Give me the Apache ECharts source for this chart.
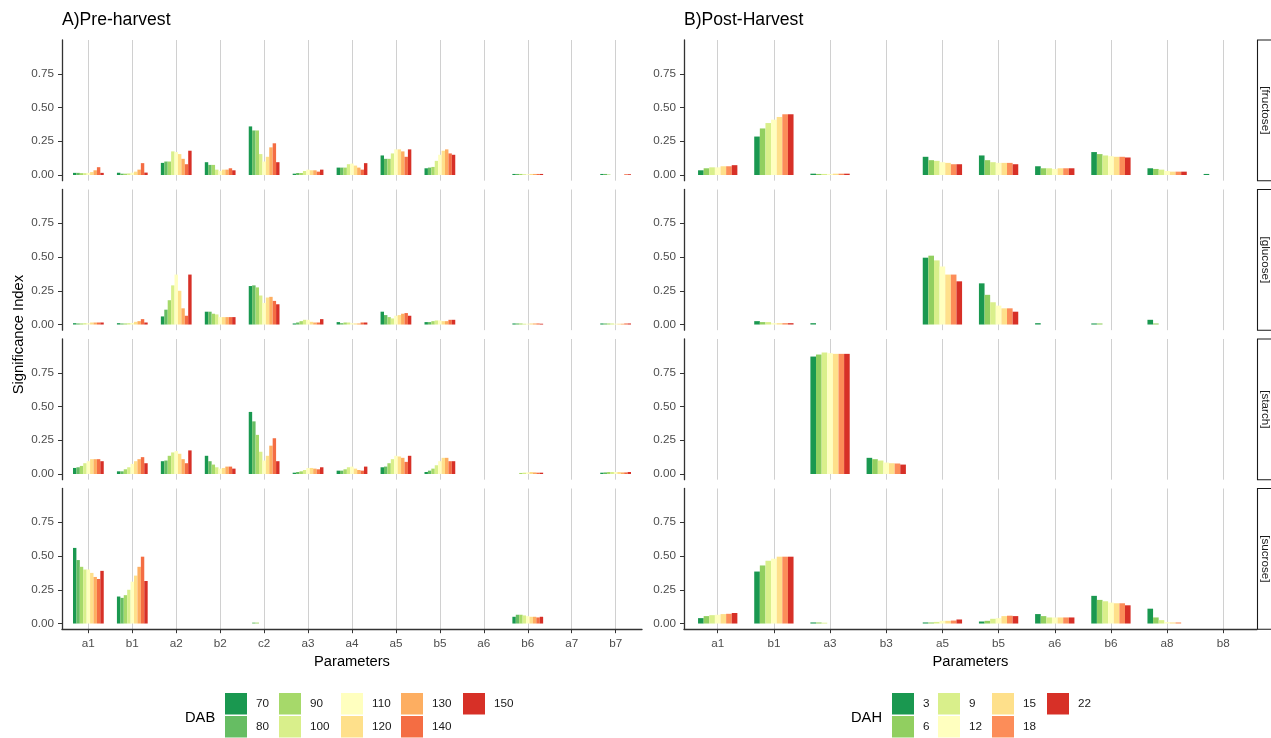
<!DOCTYPE html>
<html>
<head>
<meta charset="utf-8">
<script src="https://cdn.jsdelivr.net/npm/echarts@6/dist/echarts.min.js"></script>
<style>html,body{margin:0;padding:0;background:#fff}#c{width:1271px;height:738px}</style>
</head>
<body>
<div id="c"></div>
<script>
// ---------- data ----------
const preCategories = ['a1','b1','a2','b2','c2','a3','a4','a5','b5','a6','b6','a7','b7'];
const postCategories = ['a1','b1','a3','b3','a5','b5','a6','b6','a8','b8'];
const dabLevels = ['70','80','90','100','110','120','130','140','150'];
const dahLevels = ['3','6','9','12','15','18','22'];
const dabColors = ['#1A9850','#66BD63','#A6D96A','#D9EF8B','#FFFFBF','#FEE08B','#FDAE61','#F46D43','#D73027'];
const dahColors = ['#1A9850','#91CF60','#D9EF8B','#FFFFBF','#FEE08B','#FC8D59','#D73027'];
const yTicks = [0, 0.25, 0.5, 0.75];
const facetNames = ['[fructose]','[glucose]','[starch]','[sucrose]'];

// rows = categories, columns = DAB levels 70..150
const preFructose = [
  [0.016,0.016,0.014,0.014,0.016,0.022,0.035,0.058,0.016],
  [0.017,0.010,0.010,0.012,0.018,0.025,0.040,0.088,0.018],
  [0.090,0.100,0.100,0.175,0.170,0.155,0.120,0.080,0.180],
  [0.095,0.075,0.075,0.040,0.030,0.040,0.040,0.050,0.035],
  [0.360,0.330,0.330,0.155,0.100,0.135,0.205,0.235,0.095],
  [0.010,0.015,0.015,0.030,0.040,0.035,0.035,0.025,0.040],
  [0.055,0.055,0.055,0.080,0.085,0.070,0.055,0.040,0.088],
  [0.145,0.120,0.120,0.160,0.190,0.190,0.175,0.135,0.190],
  [0.050,0.055,0.060,0.105,0.150,0.180,0.190,0.160,0.150],
  [0,0,0,0,0,0,0,0,0],
  [0.008,0.008,0.008,0.006,0.006,0.008,0.008,0.008,0.008],
  [0,0,0,0,0,0,0,0,0],
  [0.008,0.008,0.004,0,0,0,0,0.006,0.006]
];
const preGlucose = [
  [0.010,0.008,0.008,0.010,0.010,0.015,0.015,0.015,0.015],
  [0.010,0.008,0.008,0.010,0.012,0.020,0.025,0.040,0.015],
  [0.060,0.110,0.180,0.290,0.370,0.250,0.120,0.065,0.370],
  [0.095,0.095,0.080,0.075,0.055,0.055,0.055,0.055,0.055],
  [0.285,0.290,0.275,0.215,0.160,0.200,0.205,0.175,0.150],
  [0.008,0.015,0.025,0.035,0.035,0.020,0.015,0.015,0.040],
  [0.018,0.010,0.015,0.015,0.010,0.008,0.008,0.015,0.015],
  [0.095,0.070,0.055,0.045,0.065,0.070,0.080,0.085,0.065],
  [0.018,0.018,0.025,0.030,0.030,0.025,0.025,0.035,0.035],
  [0,0,0,0,0,0,0,0,0],
  [0.008,0.008,0.008,0.006,0.006,0.008,0.008,0.008,0.006],
  [0,0,0,0,0,0,0,0,0],
  [0.008,0.008,0.008,0.008,0.006,0.006,0.006,0.008,0.008]
];
const preStarch = [
  [0.045,0.050,0.060,0.080,0.095,0.110,0.110,0.110,0.095],
  [0.020,0.020,0.035,0.050,0.075,0.095,0.110,0.125,0.080],
  [0.095,0.100,0.135,0.160,0.170,0.150,0.110,0.080,0.175],
  [0.135,0.095,0.070,0.050,0.040,0.045,0.055,0.055,0.040],
  [0.460,0.390,0.290,0.165,0.100,0.135,0.210,0.265,0.095],
  [0.010,0.015,0.020,0.030,0.045,0.045,0.040,0.035,0.050],
  [0.025,0.025,0.035,0.050,0.055,0.040,0.030,0.025,0.055],
  [0.050,0.055,0.080,0.110,0.135,0.130,0.120,0.090,0.135],
  [0.015,0.025,0.040,0.065,0.095,0.120,0.120,0.095,0.095],
  [0,0,0,0,0,0,0,0,0],
  [0,0,0.008,0.010,0.012,0.015,0.012,0.010,0.010],
  [0,0,0,0,0,0,0,0,0],
  [0.010,0.012,0.015,0.015,0.015,0.015,0.012,0.012,0.015]
];
const preSucrose = [
  [0.560,0.470,0.420,0.400,0.400,0.375,0.345,0.330,0.390],
  [0.200,0.190,0.210,0.250,0.310,0.355,0.420,0.495,0.315],
  [0,0,0,0,0,0,0,0,0],
  [0,0,0,0,0,0,0,0,0],
  [0,0.007,0.007,0,0,0,0,0,0],
  [0,0,0,0,0,0,0,0,0],
  [0,0,0,0,0,0,0,0,0],
  [0,0,0,0,0,0,0,0,0],
  [0,0,0,0,0,0,0,0,0],
  [0,0,0,0,0,0,0,0,0],
  [0.050,0.065,0.065,0.060,0.055,0.050,0.050,0.045,0.050],
  [0,0,0,0,0,0,0,0,0],
  [0,0,0,0,0,0,0,0,0]
];

// rows = categories, columns = DAH levels 3..22
const postFructose = [
  [0.035,0.050,0.057,0.057,0.065,0.065,0.073],
  [0.285,0.345,0.385,0.410,0.430,0.450,0.450],
  [0.010,0.008,0.008,0.008,0.010,0.010,0.010],
  [0,0,0,0,0,0,0],
  [0.135,0.110,0.105,0.095,0.090,0.080,0.080],
  [0.145,0.110,0.095,0.090,0.090,0.090,0.080],
  [0.065,0.050,0.050,0.045,0.050,0.050,0.050],
  [0.170,0.155,0.145,0.140,0.135,0.135,0.130],
  [0.050,0.045,0.040,0.030,0.025,0.025,0.025],
  [0.008,0,0,0,0,0,0]
];
const postGlucose = [
  [0,0,0,0,0,0,0],
  [0.025,0.018,0.018,0.010,0.010,0.010,0.010],
  [0.010,0,0,0,0,0,0],
  [0,0,0,0,0,0,0],
  [0.495,0.510,0.475,0.430,0.370,0.370,0.320],
  [0.305,0.220,0.165,0.140,0.120,0.120,0.095],
  [0.010,0,0,0,0,0,0],
  [0.008,0.008,0,0,0,0,0],
  [0.035,0.008,0,0,0,0,0],
  [0,0,0,0,0,0,0]
];
const postStarch = [
  [0,0,0,0,0,0,0],
  [0,0,0,0,0,0,0],
  [0.870,0.885,0.900,0.895,0.890,0.890,0.890],
  [0.120,0.110,0.100,0.085,0.080,0.078,0.070],
  [0,0,0,0,0,0,0],
  [0,0,0,0,0,0,0],
  [0,0,0,0,0,0,0],
  [0,0,0,0,0,0,0],
  [0,0,0,0,0,0,0],
  [0,0,0,0,0,0,0]
];
const postSucrose = [
  [0.040,0.055,0.062,0.065,0.070,0.072,0.078],
  [0.385,0.430,0.465,0.480,0.495,0.495,0.495],
  [0.008,0.008,0.006,0,0,0,0],
  [0,0,0,0,0,0,0],
  [0.008,0.008,0.012,0.020,0.020,0.022,0.030],
  [0.015,0.020,0.035,0.040,0.055,0.058,0.055],
  [0.070,0.055,0.045,0.045,0.045,0.045,0.045],
  [0.205,0.175,0.165,0.155,0.150,0.150,0.135],
  [0.110,0.045,0.025,0.010,0.008,0.008,0],
  [0,0,0,0,0,0,0]
];

// ---------- layout ----------
const FONT = '"Liberation Sans", Arial, Helvetica, sans-serif';
const ROW_TOP = 40, ROW_PITCH = 149.5, ROW_H = 140.7;
const AXIS_COL = '#333333', TXT_COL = '#4D4D4D', GRID_COL = '#D0D0D0';

const panels = [
  {cats: preCategories, levels: dabLevels, colors: dabColors,
   facets: [preFructose, preGlucose, preStarch, preSucrose], frameL: 62, frameR: 642,
   legendCols: [['70','80'],['90','100'],['110','120'],['130','140'],['150']],
   legendLefts: [225, 279, 341, 401, 463], legendTitle: 'DAB', legendTitleX: 185},
  {cats: postCategories, levels: dahLevels, colors: dahColors,
   facets: [postFructose, postGlucose, postStarch, postSucrose], frameL: 684, frameR: 1257,
   legendCols: [['3','6'],['9','12'],['15','18'],['22']],
   legendLefts: [892, 938, 992, 1047], legendTitle: 'DAH', legendTitleX: 851}
];

const grid = [], xAxis = [], yAxis = [], series = [], legend = [], graphic = [];

panels.forEach((P, p) => {
  const n = P.cats.length;
  const W = P.frameR - P.frameL;
  const unit = W / (n + 0.2);
  const dataL = P.frameL + 0.1 * unit;
  const dataW = n * unit;
  P.facets.forEach((F, r) => {
    const gi = grid.length;
    const top = ROW_TOP + r * ROW_PITCH;
    grid.push({left: dataL, top: top, width: dataW, height: ROW_H, containLabel: false});
    const bottom = r === 3;
    xAxis.push({
      type: 'category', gridIndex: gi, data: P.cats,
      axisLine: {show: false, onZero: false},
      axisTick: {show: bottom, alignWithLabel: true, length: 4, lineStyle: {color: AXIS_COL, width: 1}},
      axisLabel: {show: bottom, margin: 9, fontSize: 11.7, color: TXT_COL, fontFamily: FONT},
      splitLine: {show: true, alignWithLabel: true, lineStyle: {color: GRID_COL, width: 1}},
      name: bottom ? 'Parameters' : '', nameLocation: 'middle', nameGap: 25,
      nameTextStyle: {fontSize: 14.7, color: '#000', fontFamily: FONT}
    });
    yAxis.push({
      type: 'value', gridIndex: gi, min: -0.042, max: 1.0, offset: 0.1 * unit,
      axisLine: {show: true, lineStyle: {color: AXIS_COL, width: 1.3}},
      axisTick: {show: true, length: 4, customValues: yTicks, lineStyle: {color: AXIS_COL, width: 1}},
      axisLabel: {show: true, customValues: yTicks, margin: 8, fontSize: 11.7, color: TXT_COL, fontFamily: FONT,
                  formatter: v => Number(v).toFixed(2)},
      splitLine: {show: false}
    });
    P.levels.forEach((lv, j) => {
      series.push({
        type: 'bar', name: lv, xAxisIndex: gi, yAxisIndex: gi,
        data: F.map(row => row[j]),
        itemStyle: {color: P.colors[j]},
        barGap: '0%', barCategoryGap: '30%', silent: true
      });
    });
    if (p === 1) {
      graphic.push({type: 'rect', silent: true,
        shape: {x: 1257.5, y: top, width: 24, height: ROW_H},
        style: {fill: '#fff', stroke: '#1a1a1a', lineWidth: 1.1}});
      graphic.push({type: 'text', silent: true, x: 1265, y: top + ROW_H / 2, rotation: -Math.PI / 2,
        style: {text: facetNames[r], fontSize: 11.7, fill: '#1a1a1a', fontFamily: FONT,
                align: 'center', verticalAlign: 'middle'}});
    }
  });
  P.legendCols.forEach((col, k) => {
    legend.push({
      orient: 'vertical', left: P.legendLefts[k], top: 693, padding: 0,
      itemWidth: 22, itemHeight: 21.5, itemGap: 1.5, icon: 'rect', selectedMode: false,
      data: col,
      textStyle: {fontSize: 11.7, color: '#1a1a1a', fontFamily: FONT, padding: [0, 0, 0, 4]}
    });
  });
  graphic.push({type: 'text', silent: true, x: P.legendTitleX, y: 718,
    style: {text: P.legendTitle, fontSize: 14.7, fill: '#000', fontFamily: FONT, align: 'left', verticalAlign: 'middle'}});
});

// frame grids (full panel width axis lines for the bottom row)
panels.forEach((P, p) => {
  const gi = grid.length;
  grid.push({left: P.frameL, top: ROW_TOP + 3 * ROW_PITCH, width: P.frameR - P.frameL, height: ROW_H});
  xAxis.push({type: 'value', gridIndex: gi, min: 0, max: 1,
    axisLine: {show: true, onZero: false, lineStyle: {color: AXIS_COL, width: 1.3}},
    axisTick: {show: false}, axisLabel: {show: false}, splitLine: {show: false}});
  yAxis.push({type: 'value', gridIndex: gi, min: 0, max: 1, show: false});
});

graphic.push({type: 'text', silent: true, x: 19, y: ROW_TOP + (3 * ROW_PITCH + ROW_H) / 2, rotation: Math.PI / 2,
  style: {text: 'Significance Index', fontSize: 14.7, fill: '#000', fontFamily: FONT, align: 'center', verticalAlign: 'middle'}});

const chart = echarts.init(document.getElementById('c'), null, {renderer: 'canvas'});
chart.setOption({
  animation: false,
  backgroundColor: '#fff',
  textStyle: {fontFamily: FONT},
  title: [
    {text: 'A)Pre-harvest', left: 62, top: 11, padding: 0,
     textStyle: {fontSize: 17.6, fontWeight: 'normal', color: '#000', fontFamily: FONT}},
    {text: 'B)Post-Harvest', left: 684, top: 11, padding: 0,
     textStyle: {fontSize: 17.6, fontWeight: 'normal', color: '#000', fontFamily: FONT}}
  ],
  grid, xAxis, yAxis, series, legend, graphic
});
</script>
</body>
</html>
